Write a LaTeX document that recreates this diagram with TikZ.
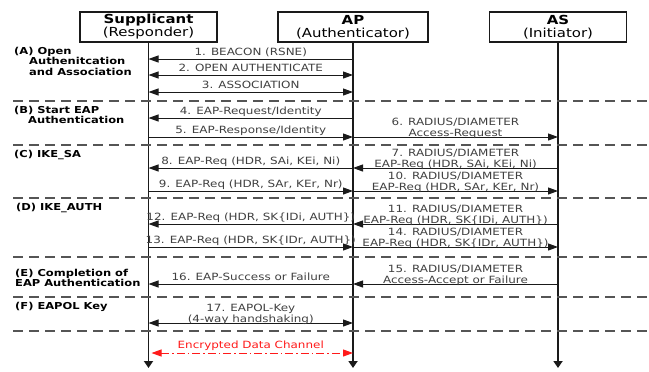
\documentclass[tikz,border=0pt]{standalone}
\usepackage{fontspec}
\setmainfont{DejaVu Sans}[FakeStretch=1.2]
\definecolor{mInk}{HTML}{1A1A1A}
\definecolor{mLabelGrey}{HTML}{404040}
\definecolor{mRuleGrey}{HTML}{555555}
\definecolor{mChanRed}{HTML}{FF1A1A}
\usetikzlibrary{arrows.meta}

\begin{document}
\begin{tikzpicture}[x=1bp, y=-1bp,
  hdr/.style={draw=mInk, line width=1.3bp, minimum height=30bp, inner sep=0pt, align=center, font=\fontsize{12.5}{13}\selectfont},
  life/.style={mInk, line width=1.8bp, -{Triangle[length=7bp,width=9bp]}},
  msg/.style={mInk, line width=1bp, -{Triangle[length=10bp,width=7bp]}},
  bmsg/.style={msg, {Triangle[length=10bp,width=7bp]}-{Triangle[length=10bp,width=7bp]}},
  chan/.style={mChanRed, line width=1bp, dash pattern=on 8bp off 3bp on 1.5bp off 3bp, {Triangle[length=10bp,width=7bp]}-{Triangle[length=10bp,width=7bp]}},
  lbl/.style={above=0bp, inner sep=0.5bp, text depth=2.4bp, text=mLabelGrey, font=\fontsize{10}{10.6}\selectfont},
  lbltwo/.style={above=-2.2bp, inner sep=0.5bp, align=center, text=mLabelGrey, font=\fontsize{10}{10.2}\selectfont},
  phase/.style={anchor=north west, align=left, inner sep=0pt, font=\bfseries\fontsize{9.6}{10.5}\selectfont},
  sep/.style={mRuleGrey, line width=1.2bp, dash pattern=on 10bp off 6bp}]
\useasboundingbox (0,0) rectangle (649,371);

\node[hdr, minimum width=137bp] (sup) at (148.5,27) {\textbf{Supplicant}\\(Responder)};
\node[hdr, minimum width=150bp] (ap) at (353,27) {\textbf{AP}\\(Authenticator)};
\node[hdr, minimum width=137bp] (as) at (558,27) {\textbf{AS}\\(Initiator)};

\coordinate (bot) at (0,368); \coordinate (rgt) at (649,0);
\draw[life] (sup.south) -- (sup |- bot); \draw[life] (ap.south) -- (ap |- bot); \draw[life] (as.south) -- (as |- bot);

\coordinate (dA) at (13,101); \coordinate (dB) at (13,145); \coordinate (dC) at (13,198);
\coordinate (dD) at (13,257); \coordinate (dE) at (13,297); \coordinate (dF) at (13,331);
\draw[sep] (dA) -- (dA -| rgt); \draw[sep] (dB) -- (dB -| rgt); \draw[sep] (dC) -- (dC -| rgt);
\draw[sep] (dD) -- (dD -| rgt); \draw[sep] (dE) -- (dE -| rgt); \draw[sep] (dF) -- (dF -| rgt);

\node[phase] (pA) at (14,47) {(A) Open\\\hspace*{15bp}Authenitcation\\\hspace*{15bp}and Association};
\node[phase] (pB) at (14,106) {(B) Start EAP\\\hspace*{14bp}Authentication};
\node[phase] (pC) at (14,150) {(C) IKE\_SA};
\node[phase] (pD) at (16,203) {(D) IKE\_AUTH};
\node[phase] (pE) at (15,269) {(E) Completion of\\EAP Authentication};
\node[phase] (pF) at (15,302) {(F) EAPOL Key};

\coordinate (r1) at (0,59); \coordinate (r2) at (0,75); \coordinate (r3) at (0,92);
\coordinate (r4) at (0,118); \coordinate (r5) at (0,137); \coordinate (r7) at (0,168);
\coordinate (r9) at (0,191); \coordinate (r11) at (0,224); \coordinate (r13) at (0,247);
\coordinate (r15) at (0,284); \coordinate (r17) at (0,323); \coordinate (rch) at (0,353);

\draw[msg] (ap |- r1) -- node[lbl]{1. BEACON (RSNE)} (sup |- r1);
\draw[bmsg] (sup |- r2) -- node[lbl]{2. OPEN AUTHENTICATE} (ap |- r2);
\draw[bmsg] (sup |- r3) -- node[lbl]{3. ASSOCIATION} (ap |- r3);
\draw[msg] (ap |- r4) -- node[lbl]{4. EAP-Request/Identity} (sup |- r4);
\draw[msg] (sup |- r5) -- node[lbl]{5. EAP-Response/Identity} (ap |- r5);
\draw[msg] (ap |- r5) -- node[lbltwo]{6. RADIUS/DIAMETER\\Access-Request} (as |- r5);
\draw[msg] (as |- r7) -- node[lbltwo]{7. RADIUS/DIAMETER\\EAP-Req (HDR, SAi, KEi, Ni)} (ap |- r7);
\draw[msg] (ap |- r7) -- node[lbl]{8. EAP-Req (HDR, SAi, KEi, Ni)} (sup |- r7);
\draw[msg] (sup |- r9) -- node[lbl]{9. EAP-Req (HDR, SAr, KEr, Nr)} (ap |- r9);
\draw[msg] (ap |- r9) -- node[lbltwo]{10. RADIUS/DIAMETER\\EAP-Req (HDR, SAr, KEr, Nr)} (as |- r9);
\draw[msg] (as |- r11) -- node[lbltwo]{11. RADIUS/DIAMETER\\EAP-Req (HDR, SK\{IDi, AUTH\})} (ap |- r11);
\draw[msg] (ap |- r11) -- node[lbl]{12. EAP-Req (HDR, SK\{IDi, AUTH\})} (sup |- r11);
\draw[msg] (sup |- r13) -- node[lbl]{13. EAP-Req (HDR, SK\{IDr, AUTH\})} (ap |- r13);
\draw[msg] (ap |- r13) -- node[lbltwo]{14. RADIUS/DIAMETER\\EAP-Req (HDR, SK\{IDr, AUTH\})} (as |- r13);
\draw[msg] (as |- r15) -- node[lbltwo]{15. RADIUS/DIAMETER\\Access-Accept or Failure} (ap |- r15);
\draw[msg] (ap |- r15) -- node[lbl]{16. EAP-Success or Failure} (sup |- r15);
\draw[bmsg] (sup |- r17) -- node[lbltwo]{17. EAPOL-Key\\(4-way handshaking)} (ap |- r17);
\draw[chan, shorten <=3bp] (sup |- rch) -- node[lbl, text=mChanRed, above=1.5bp]{Encrypted Data Channel} (ap |- rch);
\end{tikzpicture}
\end{document}
